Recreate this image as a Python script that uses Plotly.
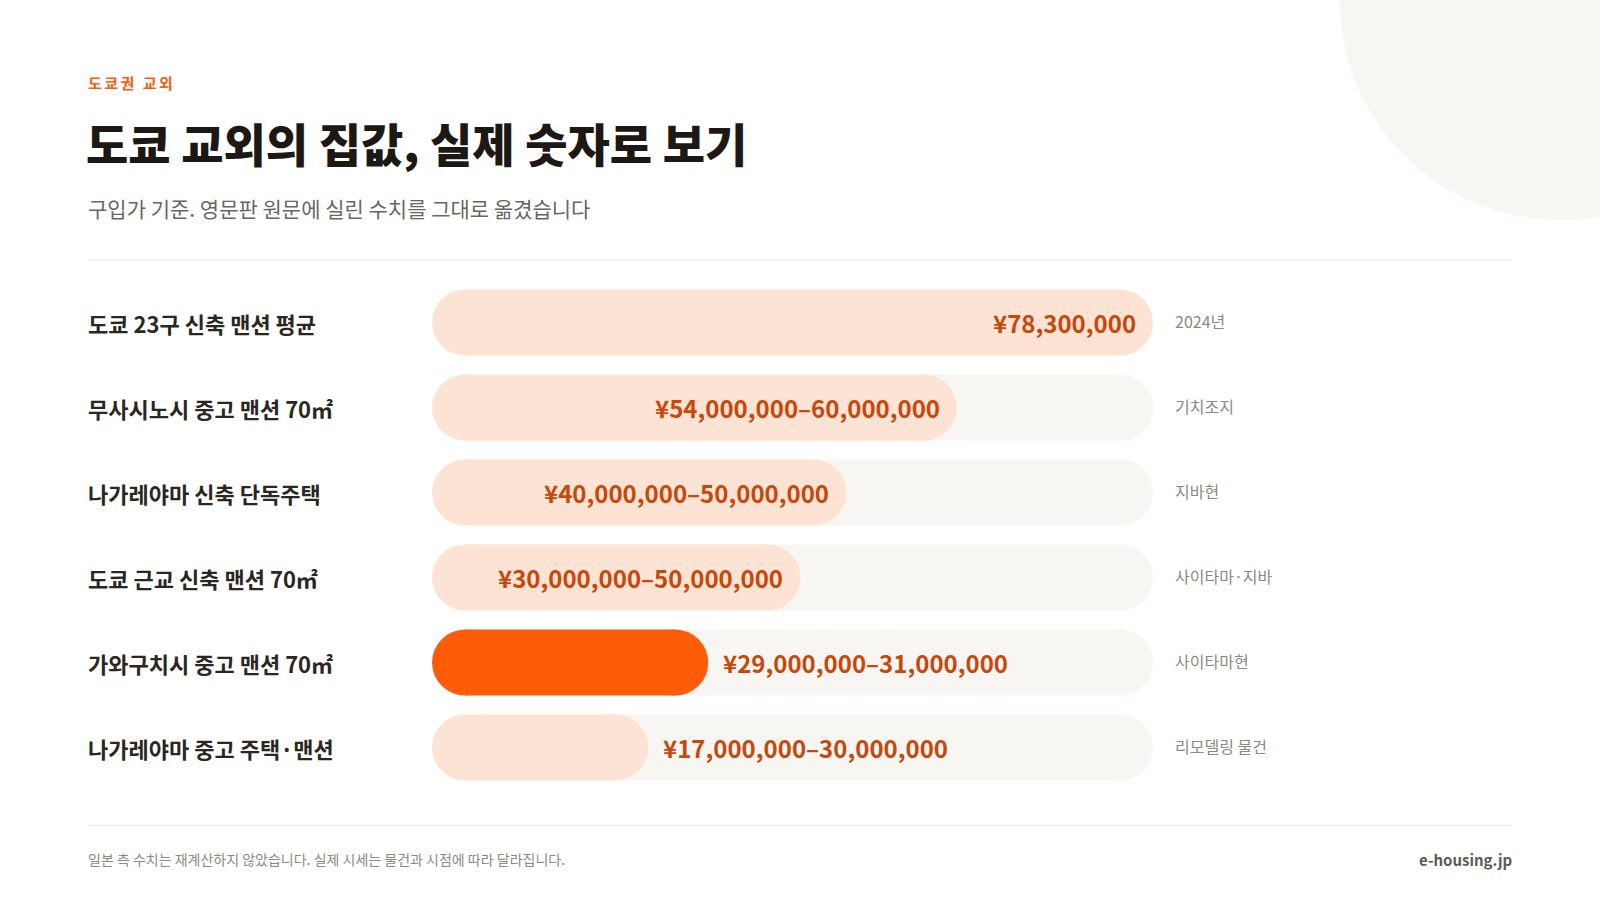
import plotly.graph_objects as go

# ---------------- data ----------------
categories = [
    "도쿄 23구 신축 맨션 평균",
    "무사시노시 중고 맨션 70㎡",
    "나가레야마 신축 단독주택",
    "도쿄 근교 신축 맨션 70㎡",
    "가와구치시 중고 맨션 70㎡",
    "나가레야마 중고 주택·맨션",
]
low_million = [78.3, 54, 40, 30, 29, 17]
high_million = [78.3, 60, 50, 50, 31, 30]
notes = ["2024년", "기치조지", "지바현", "사이타마·지바", "사이타마현", "리모델링 물건"]
highlight = "가와구치시 중고 맨션 70㎡"

eyebrow = "도쿄권 교외"
title = "도쿄 교외의 집값, 실제 숫자로 보기"
subtitle = "구입가 기준. 영문판 원문에 실린 수치를 그대로 옮겼습니다"
footnote = "일본 측 수치는 재계산하지 않았습니다. 실제 시세는 물건과 시점에 따라 달라집니다."
source = "e-housing.jp"

# ---------------- layout geometry ----------------
W, H = 1600, 900
L, RR = 432, 1153
T, B = 280, 790.5
BAR_PX = 66
ROW_PX = 85
FONT = "Noto Sans CJK KR"


def px(x):
    return (x - L) / (RR - L)


def py(y):
    return (B - y) / (B - T)


def fmt(v):
    return "¥{:,}".format(int(round(v * 1_000_000)))


labels = [fmt(lo) if lo == hi else fmt(lo) + "–" + fmt(hi)[1:]
          for lo, hi in zip(low_million, high_million)]
mids = [(lo + hi) / 2 for lo, hi in zip(low_million, high_million)]
xmax = max(high_million)
plot_w = RR - L
r_data = (BAR_PX / 2) / plot_w * xmax   # half bar thickness in data units

PEACH = "#FDE3D4"
ORANGE = "#FF5C0A"
TRACK = "#F8F6F2"
VALTXT = "#C8470A"

bar_colors = [ORANGE if c == highlight else PEACH for c in categories]
n = len(categories)

fig = go.Figure()

# track body (its left end is always hidden under the value bar's cap)
fig.add_trace(go.Bar(
    y=categories, x=[xmax - 2 * r_data] * n, base=[r_data] * n, orientation="h",
    marker=dict(color=TRACK, line=dict(width=0)),
    hoverinfo="skip", showlegend=False,
))
# value body
fig.add_trace(go.Bar(
    y=categories, x=[m - 2 * r_data for m in mids], base=[r_data] * n, orientation="h",
    marker=dict(color=bar_colors, line=dict(width=0)),
    hoverinfo="skip", showlegend=False,
))
# track right caps (only where the value bar does not reach the end)
track_rows = [c for c, m in zip(categories, mids) if m < xmax]
fig.add_trace(go.Scatter(
    y=track_rows, x=[xmax - r_data] * len(track_rows), mode="markers",
    marker=dict(size=BAR_PX, color=TRACK, symbol="circle", line=dict(width=0)),
    hoverinfo="skip", showlegend=False, cliponaxis=False,
))
# value caps at both ends
fig.add_trace(go.Scatter(
    y=categories + categories,
    x=[r_data] * n + [m - r_data for m in mids],
    mode="markers",
    marker=dict(size=BAR_PX, color=bar_colors + bar_colors, symbol="circle",
                line=dict(width=0)),
    hoverinfo="skip", showlegend=False, cliponaxis=False,
))

ann = []
for cat, m, lab, note in zip(categories, mids, labels, notes):
    bar_px = m / xmax * plot_w
    est_w = 12.5 * len(lab)
    inside = bar_px >= est_w + 34
    ann.append(dict(
        x=m, y=cat, xref="x", yref="y", text=lab, showarrow=False,
        xanchor="right" if inside else "left",
        xshift=-15 if inside else 13, yanchor="middle",
        font=dict(family=FONT, size=24, color=VALTXT, weight=700),
    ))
    # row label
    ann.append(dict(
        x=px(86), y=cat, xref="paper", yref="y", text=cat, showarrow=False,
        xanchor="left", yanchor="middle",
        font=dict(family=FONT, size=22, color="#2B2621", weight=700),
    ))
    # note
    ann.append(dict(
        x=px(1173), y=cat, xref="paper", yref="y", text=note, showarrow=False,
        xanchor="left", yanchor="middle", yshift=2,
        font=dict(family=FONT, size=16, color="#8F8880"),
    ))

ann += [
    dict(x=px(86), y=py(82), xref="paper", yref="paper",
         text='<span style="letter-spacing:2.5px">' + eyebrow + "</span>",
         showarrow=False, xanchor="left", yanchor="middle",
         font=dict(family=FONT, size=15, color=ORANGE, weight=700)),
    dict(x=px(84), y=py(142), xref="paper", yref="paper", text=title,
         showarrow=False, xanchor="left", yanchor="middle",
         font=dict(family=FONT, size=46, color="#1C1814", weight=900)),
    dict(x=px(86), y=py(208), xref="paper", yref="paper", text=subtitle,
         showarrow=False, xanchor="left", yanchor="middle",
         font=dict(family=FONT, size=21, color="#6B655F")),
    dict(x=px(86), y=py(860), xref="paper", yref="paper", text=footnote,
         showarrow=False, xanchor="left", yanchor="middle",
         font=dict(family=FONT, size=14, color="#8F8880")),
    dict(x=px(1514), y=py(860), xref="paper", yref="paper", text=source,
         showarrow=False, xanchor="right", yanchor="middle",
         font=dict(family=FONT, size=15, color="#5E5852", weight=700)),
]

shapes = [
    dict(type="circle", xref="paper", yref="paper", layer="below",
         x0=px(1340), x1=px(1780), y0=py(220), y1=py(-220),
         fillcolor=TRACK, line=dict(width=0)),
    dict(type="line", xref="paper", yref="paper", layer="below",
         x0=px(88), x1=px(1512), y0=py(260), y1=py(260),
         line=dict(color="#ECE7E1", width=1)),
    dict(type="line", xref="paper", yref="paper", layer="below",
         x0=px(88), x1=px(1512), y0=py(826), y1=py(826),
         line=dict(color="#ECE7E1", width=1)),
]

fig.update_layout(
    width=W, height=H,
    margin=dict(l=L, r=W - RR, t=T, b=H - B, pad=0),
    paper_bgcolor="white", plot_bgcolor="rgba(0,0,0,0)",
    barmode="overlay", bargap=1 - BAR_PX / ROW_PX,
    xaxis=dict(range=[0, xmax], visible=False, fixedrange=True),
    yaxis=dict(categoryorder="array", categoryarray=categories,
               range=[n - 0.5, -0.5], autorange=False,
               visible=False, fixedrange=True),
    annotations=ann, shapes=shapes,
    font=dict(family=FONT),
    hovermode=False,
)

fig.write_html("out.html", config={"displayModeBar": False},
               post_script="document.body.style.margin='0';document.body.style.overflow='hidden';")
